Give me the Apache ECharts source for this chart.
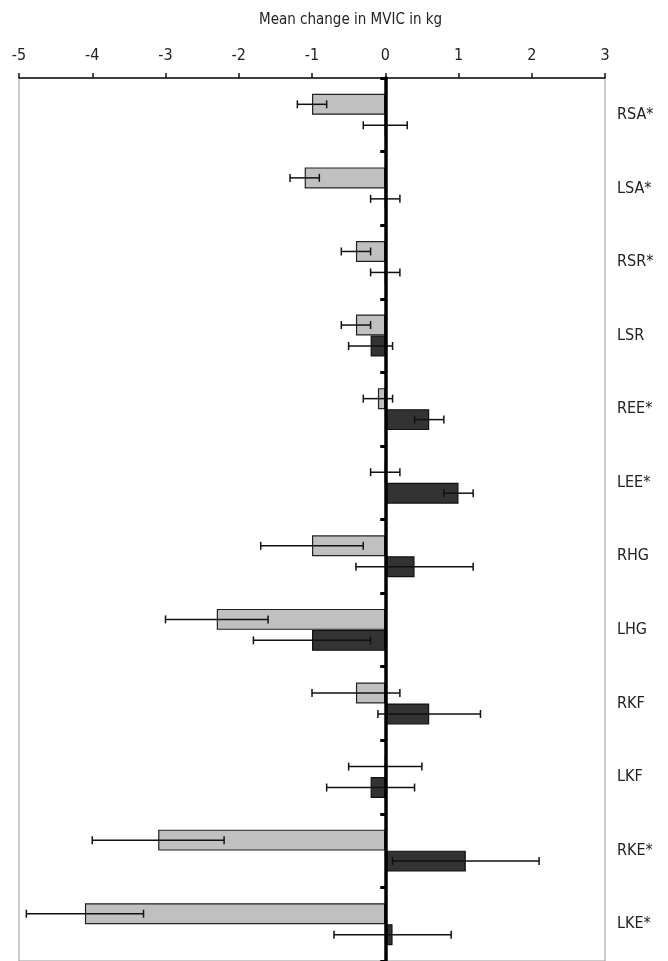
<!DOCTYPE html>
<html>
<head>
<meta charset="utf-8">
<script src="https://cdn.jsdelivr.net/npm/echarts@6/dist/echarts.min.js"></script>
<style>
html,body{margin:0;padding:0;background:#fff;overflow:hidden;}
#chart{width:668px;height:961px;}
</style>
</head>
<body>
<div id="chart"></div>
<script>
var categories = ['RSA*','LSA*','RSR*','LSR','REE*','LEE*','RHG','LHG','RKF','LKF','RKE*','LKE*'];
var lightValues = [-1.0,-1.1,-0.4,-0.4,-0.1,0,-1.0,-2.3,-0.4,0,-3.1,-4.1];
var lightErrors = [0.2,0.2,0.2,0.2,0.2,0.2,0.7,0.7,0.6,0.5,0.9,0.8];
var darkValues = [0,0,0,-0.2,0.6,1.0,0.4,-1.0,0.6,-0.2,1.1,0.1];
var darkErrors = [0.3,0.2,0.2,0.3,0.2,0.2,0.8,0.8,0.7,0.6,1.0,0.8];
var xTicks = [-5,-4,-3,-2,-1,0,1,2,3];
var axisTitle = 'Mean change in MVIC in kg';

var FONT = "'Liberation Sans Narrow','DejaVu Sans Condensed','Arial Narrow',sans-serif";
var CAT_GAP = 0.43;

function errData(vals, errs){
  return vals.map(function(v,i){ return [i, v - errs[i], v + errs[i]]; });
}
function errRender(side){
  return function(params, api){
    var idx = api.value(0);
    var lo = api.coord([api.value(1), idx]);
    var hi = api.coord([api.value(2), idx]);
    var band = api.size([0,1])[1];
    var off = side * band * (1 - CAT_GAP) / 4;
    var y = lo[1] + off;
    var cap = 4;
    var st = {stroke:'#111', lineWidth:1.5};
    return {type:'group', children:[
      {type:'line', shape:{x1:lo[0],y1:y,x2:hi[0],y2:y}, style:st},
      {type:'line', shape:{x1:lo[0],y1:y-cap,x2:lo[0],y2:y+cap}, style:st},
      {type:'line', shape:{x1:hi[0],y1:y-cap,x2:hi[0],y2:y+cap}, style:st}
    ]};
  };
}

var chart = echarts.init(document.getElementById('chart'), null, {renderer:'canvas'});
chart.setOption({
  animation:false,
  backgroundColor:'#fff',
  title:{text:axisTitle, left:254, top:8,
    textStyle:{fontFamily:FONT, fontSize:15, fontWeight:'normal', color:'#222'}},
  grid:{left:19, right:63, top:78, bottom:-5, show:true, borderColor:'#999', borderWidth:1, backgroundColor:'transparent'},
  xAxis:{type:'value', position:'top', min:-5, max:3, interval:1,
    axisLine:{show:true, onZero:false, lineStyle:{color:'#111', width:1.5}},
    axisTick:{show:true, length:5, lineStyle:{color:'#111', width:1.5}},
    axisLabel:{margin:14, fontFamily:FONT, fontSize:16, color:'#222',
      formatter:function(v){ return xTicks.indexOf(v) >= 0 ? String(v) : ''; }},
    splitLine:{show:false}},
  yAxis:[
    {type:'category', data:categories, inverse:true, z:10,
      axisLine:{show:true, onZero:true, lineStyle:{color:'#000', width:3.5}},
      axisTick:{show:true, length:5, alignWithLabel:false, lineStyle:{color:'#000', width:3}},
      axisLabel:{show:false}, splitLine:{show:false}},
    {type:'category', data:categories, inverse:true, position:'right',
      axisLine:{show:false, onZero:false}, axisTick:{show:false},
      axisLabel:{show:true, margin:12, fontFamily:FONT, fontSize:16, color:'#222'},
      splitLine:{show:false}}
  ],
  series:[
    {type:'bar', name:'light', data:lightValues, yAxisIndex:0, barGap:'0%', barCategoryGap:'43%',
      itemStyle:{color:'#c0c0c0', borderColor:'#222', borderWidth:1.2}},
    {type:'bar', name:'dark', data:darkValues, yAxisIndex:0, barGap:'0%', barCategoryGap:'43%',
      itemStyle:{color:'#333333', borderColor:'#111', borderWidth:1.2}},
    {type:'custom', name:'lightErr', yAxisIndex:0, renderItem:errRender(-1),
      data:errData(lightValues, lightErrors), encode:{x:[1,2], y:0}, z:5},
    {type:'custom', name:'darkErr', yAxisIndex:0, renderItem:errRender(1),
      data:errData(darkValues, darkErrors), encode:{x:[1,2], y:0}, z:5}
  ]
});
</script>
</body>
</html>
